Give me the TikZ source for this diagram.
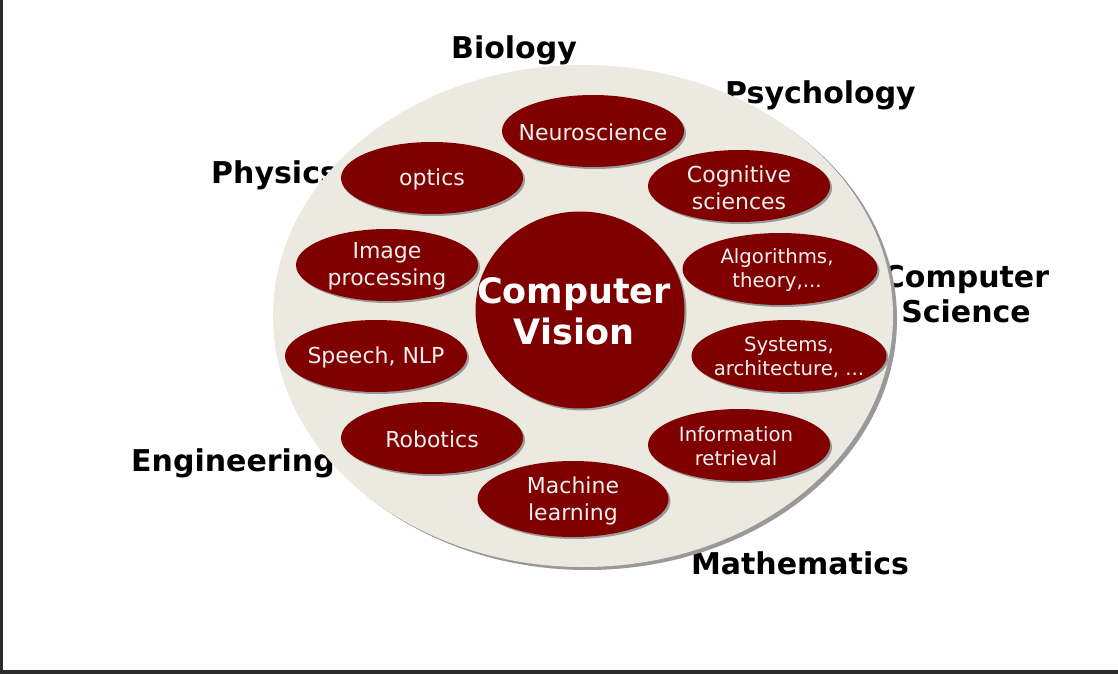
\documentclass[tikz,border=0pt]{standalone}
\usepackage{fontspec}
\setmainfont{DejaVu Sans}
\usepackage{tikz}
\usetikzlibrary{shapes.geometric, shadows}
\definecolor{cvred}{HTML}{800000}
\definecolor{cvsand}{HTML}{ECEAE0}
\definecolor{cvframe}{HTML}{2B2B2B}

\begin{document}
\begin{tikzpicture}[
  x=1pt, y=-1pt,
  every node/.style={inner sep=0pt},
  field/.style={font=\fontsize{30}{35}\selectfont\bfseries, text=black, align=center, yshift=-3pt},
  backdrop/.style={ellipse, fill=cvsand, drop shadow={opacity=1, fill=black!40, shadow xshift=4pt, shadow yshift=-3pt}},
  topic/.style={ellipse, fill=cvred, minimum width=182pt, minimum height=72pt,
    drop shadow={opacity=1, fill=black!40, shadow xshift=2pt, shadow yshift=-2pt}},
  topic text/.style={font=\fontsize{22}{27}\selectfont, text=white!94!black, align=center, yshift=-1.5pt},
  small text/.style={font=\fontsize{19.7}{24}\selectfont, text=white!94!black, align=center, yshift=-1.5pt},
  core/.style={ellipse, fill=cvred, minimum width=209pt, minimum height=197pt,
    drop shadow={opacity=1, fill=black!40, shadow xshift=2pt, shadow yshift=-2pt}}
]
\useasboundingbox (0,0) rectangle (1118,674);
\fill[cvframe] (0,0) rectangle (3,674);
\fill[cvframe] (0,670) rectangle (1118,674);

% neighbouring fields
\node[field] (biology) at (514,47) {Biology};
\node[field, anchor=west] (psychology) at (725,92) {Psychology};
\node[field, anchor=west] (physics) at (211,172) {Physics};
\node[field] (cs) at (966,291) {Computer\\Science};
\node[field, anchor=west] (engineering) at (131,460) {Engineering};
\node[field] (mathematics) at (800,560) {Mathematics};

% background
\node[backdrop, minimum width=620pt, minimum height=502pt] (area) at (583,316) {};

% topics
\node[topic, label={[topic text]center:Neuroscience}] (neuro) at (593,131) {};
\node[topic, label={[topic text]center:optics}] (optics) at (432,178) {};
\node[topic, label={[topic text]center:{Cognitive\\sciences}}] (cognitive) at (739,186) {};
\node[topic, label={[topic text]center:{Image\\processing}}] (image) at (387,265) {};
\node[topic, minimum width=195pt, label={[small text, xshift=-3pt]center:{Algorithms,\\theory,...}}] (algo) at (780,269) {};
\node[topic, label={[topic text]center:{Speech, NLP}}] (speech) at (376,356) {};
\node[topic, minimum width=195pt, label={[small text]center:{Systems,\\architecture, ...}}] (systems) at (789,356) {};
\node[topic, label={[topic text]center:Robotics}] (robotics) at (432,438) {};
\node[topic, label={[small text, xshift=-3pt]center:{Information\\retrieval}}] (retrieval) at (739,445) {};
\node[topic, minimum width=191pt, minimum height=76pt, label={[topic text]center:{Machine\\learning}}] (ml) at (573,499) {};

% centre
\node[core, label={[font=\fontsize{35}{41}\selectfont\bfseries, text=white, align=center, xshift=-6pt, yshift=-1pt]center:{Computer\\Vision}}] (cv) at (580,310) {};
\end{tikzpicture}
\end{document}
